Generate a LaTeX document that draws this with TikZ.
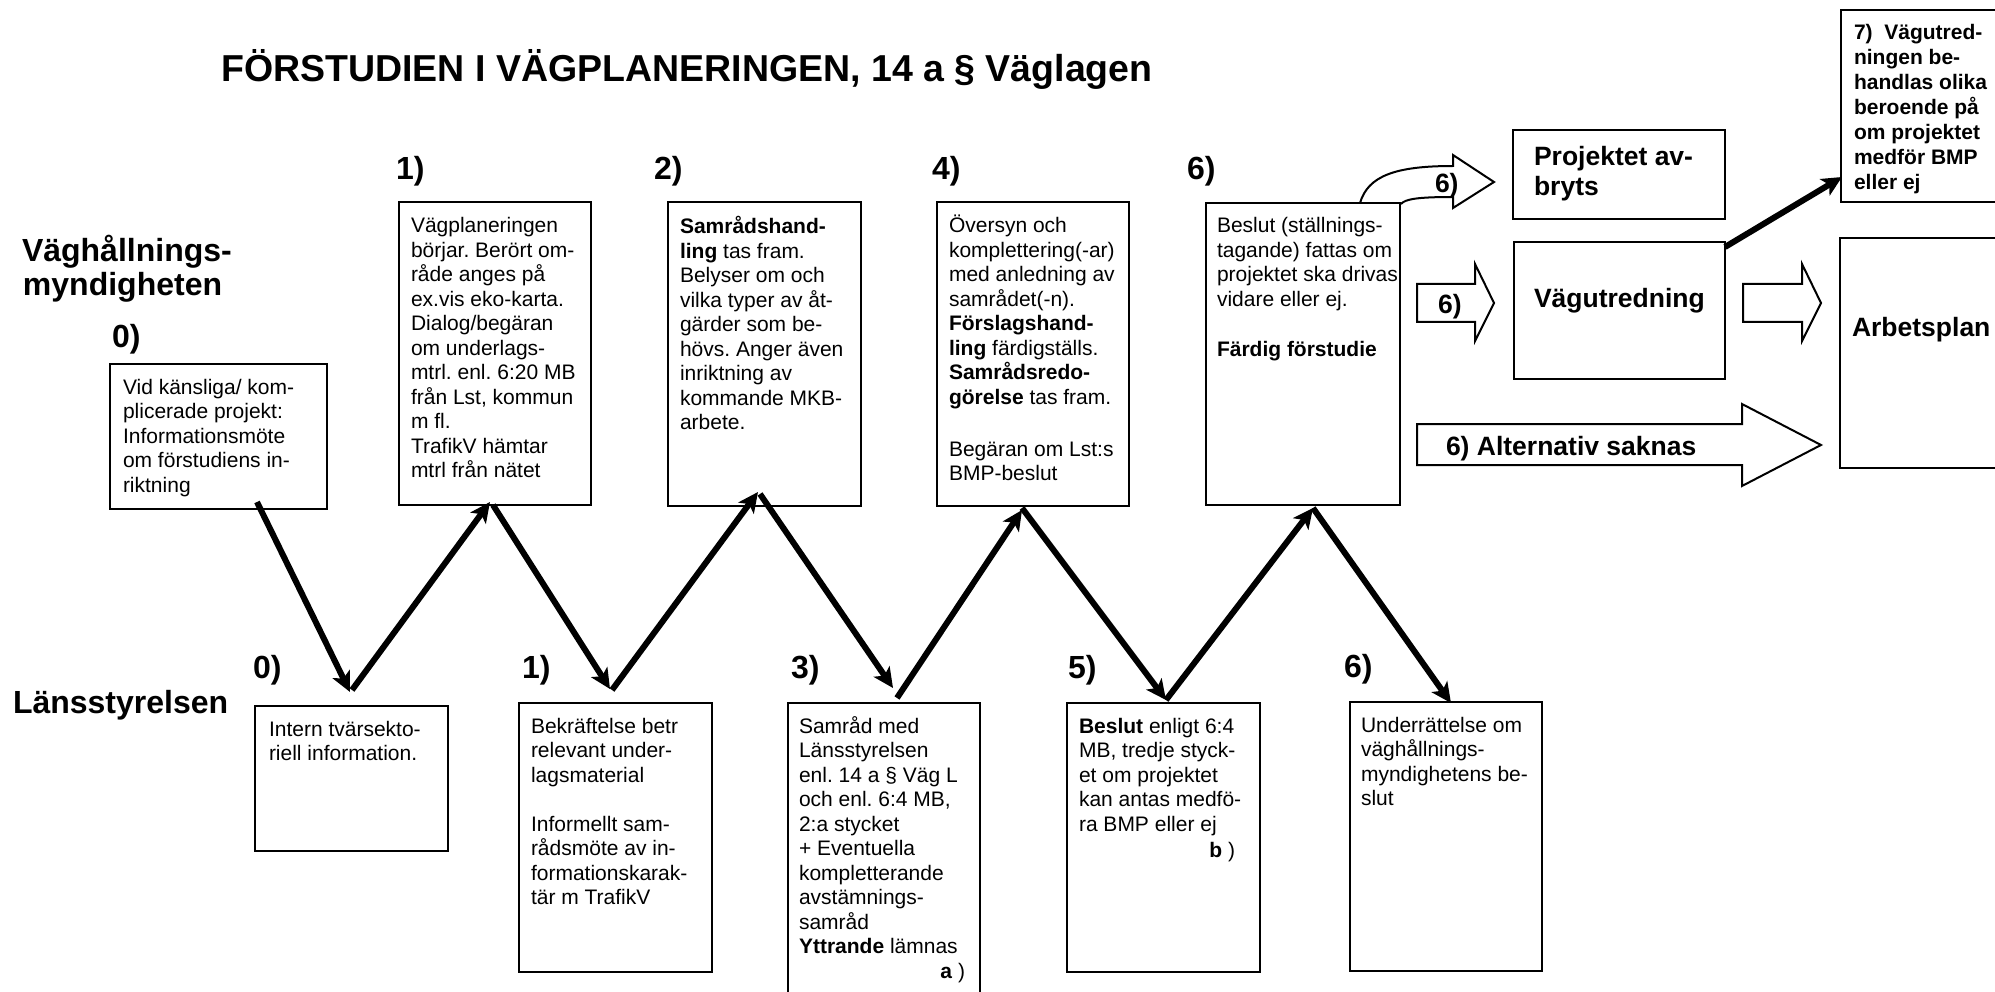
\documentclass[tikz,border=0pt]{standalone}
\usepackage{fontspec}
\setmainfont{Liberation Sans}
\usetikzlibrary{arrows.meta}
\frenchspacing
\newcommand{\boxtext}[1]{\parbox[t]{300pt}{\raggedright #1}}
\begin{document}
\begin{tikzpicture}[x=1pt,y=-1pt,
  box/.style={draw, line width=2pt, inner sep=0pt, outer sep=0pt, anchor=north west},
  txt/.style={inner sep=0pt, outer sep=0pt, anchor=base west, font=\fontsize{21}{24.5}\selectfont},
  lbl/.style={inner sep=0pt, outer sep=0pt, anchor=base west, font=\fontsize{32}{34}\selectfont\bfseries},
  big/.style={inner sep=0pt, outer sep=0pt, anchor=base west, font=\fontsize{26.5}{30}\selectfont\bfseries},
  zz/.style={line width=6pt, -{Stealth[length=20pt,width=19pt,inset=5pt]}},
  blockarrow/.style={draw, line width=2pt, fill=white, line join=miter},
]
\useasboundingbox (0,0) rectangle (1995,992);

% title and lane labels
\node[anchor=base, inner sep=0pt, font=\fontsize{37.5}{40}\selectfont\bfseries] (title) at (687,82) {FÖRSTUDIEN I VÄGPLANERINGEN, 14 a § Väglagen};
\node[lbl] (laneA1) at (22,262) {Väghållnings-};
\node[lbl] (laneA2) at (23,296) {myndigheten};
\node[lbl] (laneB) at (13,713) {Länsstyrelsen};

% step labels
\node[lbl] (sv0) at (112,348) {0)};
\node[lbl] (sv1) at (396,180) {1)};
\node[lbl] (sv2) at (654,180) {2)};
\node[lbl] (sv4) at (932,180) {4)};
\node[lbl] (sv6) at (1187,180) {6)};
\node[lbl] (sl0) at (253,678) {0)};
\node[lbl] (sl1) at (522,678) {1)};
\node[lbl] (sl3) at (791,678) {3)};
\node[lbl] (sl5) at (1068,678) {5)};
\node[lbl] (sl6) at (1344,677) {6)};

% curved block arrow (drawn before box v6)
\draw[blockarrow] (1360,203) .. controls (1368,176) and (1395,166) .. (1453,166) -- (1453,155) -- (1494,182) -- (1453,208) -- (1453,197) .. controls (1418,197) and (1405,199) .. (1401,204);
\node[big] (c6) at (1435,193) {6)};

% top row boxes
\node[box, minimum width=217pt, minimum height=145pt] (v0) at (110,364) {};
\node[box, minimum width=192pt, minimum height=303pt] (v1) at (399,202) {};
\node[box, minimum width=193pt, minimum height=304pt] (v2) at (668,202) {};
\node[box, minimum width=192pt, minimum height=304pt] (v4) at (937,202) {};
\node[box, minimum width=194pt, minimum height=302pt] (v6) at (1206,203) {};

\node[txt] (v0t) at (123,394) {\boxtext{Vid känsliga/ kom-\\plicerade projekt:\\Informationsmöte\\om förstudiens in-\\riktning}};
\node[txt] (v1t) at (411,233) {\boxtext{Vägplaneringen\\börjar. Berört om-\\råde anges på\\ex.vis eko-karta.\\Dialog/begäran\\om underlags-\\mtrl. enl. 6:20 MB\\från Lst, kommun\\m fl.\\TrafikV hämtar\\mtrl från nätet}};
\node[txt] (v2t) at (680,234) {\boxtext{\textbf{Samrådshand-}\\\textbf{ling} tas fram.\\Belyser om och\\vilka typer av åt-\\gärder som be-\\hövs. Anger även\\inriktning av\\kommande MKB-\\arbete.}};
\node[txt] (v4t) at (949,233) {\boxtext{Översyn och\\komplettering(-ar)\\med anledning av\\samrådet(-n).\\\textbf{Förslagshand-}\\\textbf{ling} färdigställs.\\\textbf{Samrådsredo-}\\\textbf{görelse} tas fram.\\[27.5pt]Begäran om Lst:s\\BMP-beslut}};
\node[txt] (v6t) at (1217,233) {\boxtext{Beslut (ställnings-\\tagande) fattas om\\projektet ska drivas\\vidare eller ej.\\[25.5pt]\textbf{Färdig förstudie}}};

% bottom row boxes
\node[box, minimum width=193pt, minimum height=145pt] (l0) at (255,706) {};
\node[box, minimum width=193pt, minimum height=269pt] (l1) at (519,703) {};
\node[box, minimum width=192pt, minimum height=300pt] (l3) at (788,703) {};
\node[box, minimum width=193pt, minimum height=269pt] (l5) at (1067,703) {};
\node[box, minimum width=192pt, minimum height=269pt] (l6) at (1350,702) {};

\node[txt] (l0t) at (269,736) {\boxtext{Intern tvärsekto-\\riell information.}};
\node[txt] (l1t) at (531,733) {\boxtext{Bekräftelse betr\\relevant under-\\lagsmaterial\\[24.5pt]Informellt sam-\\rådsmöte av in-\\formationskarak-\\tär m TrafikV}};
\node[txt] (l3t) at (799,733) {\boxtext{Samråd med\\Länsstyrelsen\\enl. 14 a § Väg L\\och enl. 6:4 MB,\\2:a stycket\\+ Eventuella\\kompletterande\\avstämnings-\\samråd\\\textbf{Yttrande} lämnas}};
\node[txt, anchor=base east] (l3a) at (965,978) {\textbf{a} )};
\node[txt] (l5t) at (1079,733) {\boxtext{\textbf{Beslut} enligt 6:4\\MB, tredje styck-\\et om projektet\\kan antas medfö-\\ra BMP eller ej}};
\node[txt, anchor=base east] (l5b) at (1235,857) {\textbf{b} )};
\node[txt] (l6t) at (1361,732) {\boxtext{Underrättelse om\\väghållnings-\\myndighetens be-\\slut}};

% right part
\node[box, minimum width=212pt, minimum height=89pt] (pa) at (1513,130) {};
\node[big] (pat) at (1534,166) {\boxtext{Projektet av-\\bryts}};
\node[box, minimum width=211pt, minimum height=137pt] (vu) at (1514,242) {};
\node[big] (vut) at (1534,308) {Vägutredning};
\node[box, minimum width=160pt, minimum height=192pt] (sev) at (1841,10) {};
\node[txt, font=\fontsize{21}{25}\selectfont\bfseries] (sevt) at (1854,40) {\boxtext{7)\ \ Vägutred-\\ningen be-\\handlas olika\\beroende på\\om projektet\\medför BMP\\eller ej}};
\node[box, minimum width=160pt, minimum height=230pt] (ap) at (1840,238) {};
\node[big] (apt) at (1852,337) {Arbetsplan};

% block arrows
\draw[blockarrow] (1417,284) -- (1475,284) -- (1475,264) -- (1494,303) -- (1475,341) -- (1475,322) -- (1417,322) -- cycle;
\node[big] (a6) at (1438,314) {6)};
\draw[blockarrow] (1743,284) -- (1802,284) -- (1802,264) -- (1821,303) -- (1802,341) -- (1802,322) -- (1743,322) -- cycle;
\draw[blockarrow] (1417,424) -- (1742,424) -- (1742,404) -- (1821,445) -- (1742,486) -- (1742,465) -- (1417,465) -- cycle;
\node[big] (alt) at (1446,455) {6) Alternativ saknas};

% zig-zag connector points
\coordinate (p0s) at (257,502);
\coordinate (q0) at (350,692);
\coordinate (q0s) at (352,690);
\coordinate (p1) at (490,502);
\coordinate (p1s) at (493,505);
\coordinate (q1) at (610,689);
\coordinate (q1s) at (612,690);
\coordinate (p2) at (758,492);
\coordinate (p2s) at (760,494);
\coordinate (q3) at (893,688);
\coordinate (q3s) at (897,698);
\coordinate (p4) at (1022,510);
\coordinate (p4s) at (1022,508);
\coordinate (q5) at (1166,700);
\coordinate (q5s) at (1166,700);
\coordinate (p6) at (1313,508);
\coordinate (p6s) at (1313,508);
\coordinate (q6) at (1451,703);
\coordinate (vuc) at (1725,247);
\coordinate (sevc) at (1842,177);

\draw[zz] (p0s) -- (q0);
\draw[zz] (q0s) -- (p1);
\draw[zz] (p1s) -- (q1);
\draw[zz] (q1s) -- (p2);
\draw[zz] (p2s) -- (q3);
\draw[zz] (q3s) -- (p4);
\draw[zz] (p4s) -- (q5);
\draw[zz] (q5s) -- (p6);
\draw[zz] (p6s) -- (q6);
\draw[zz] (vuc) -- (sevc);
\end{tikzpicture}
\end{document}
